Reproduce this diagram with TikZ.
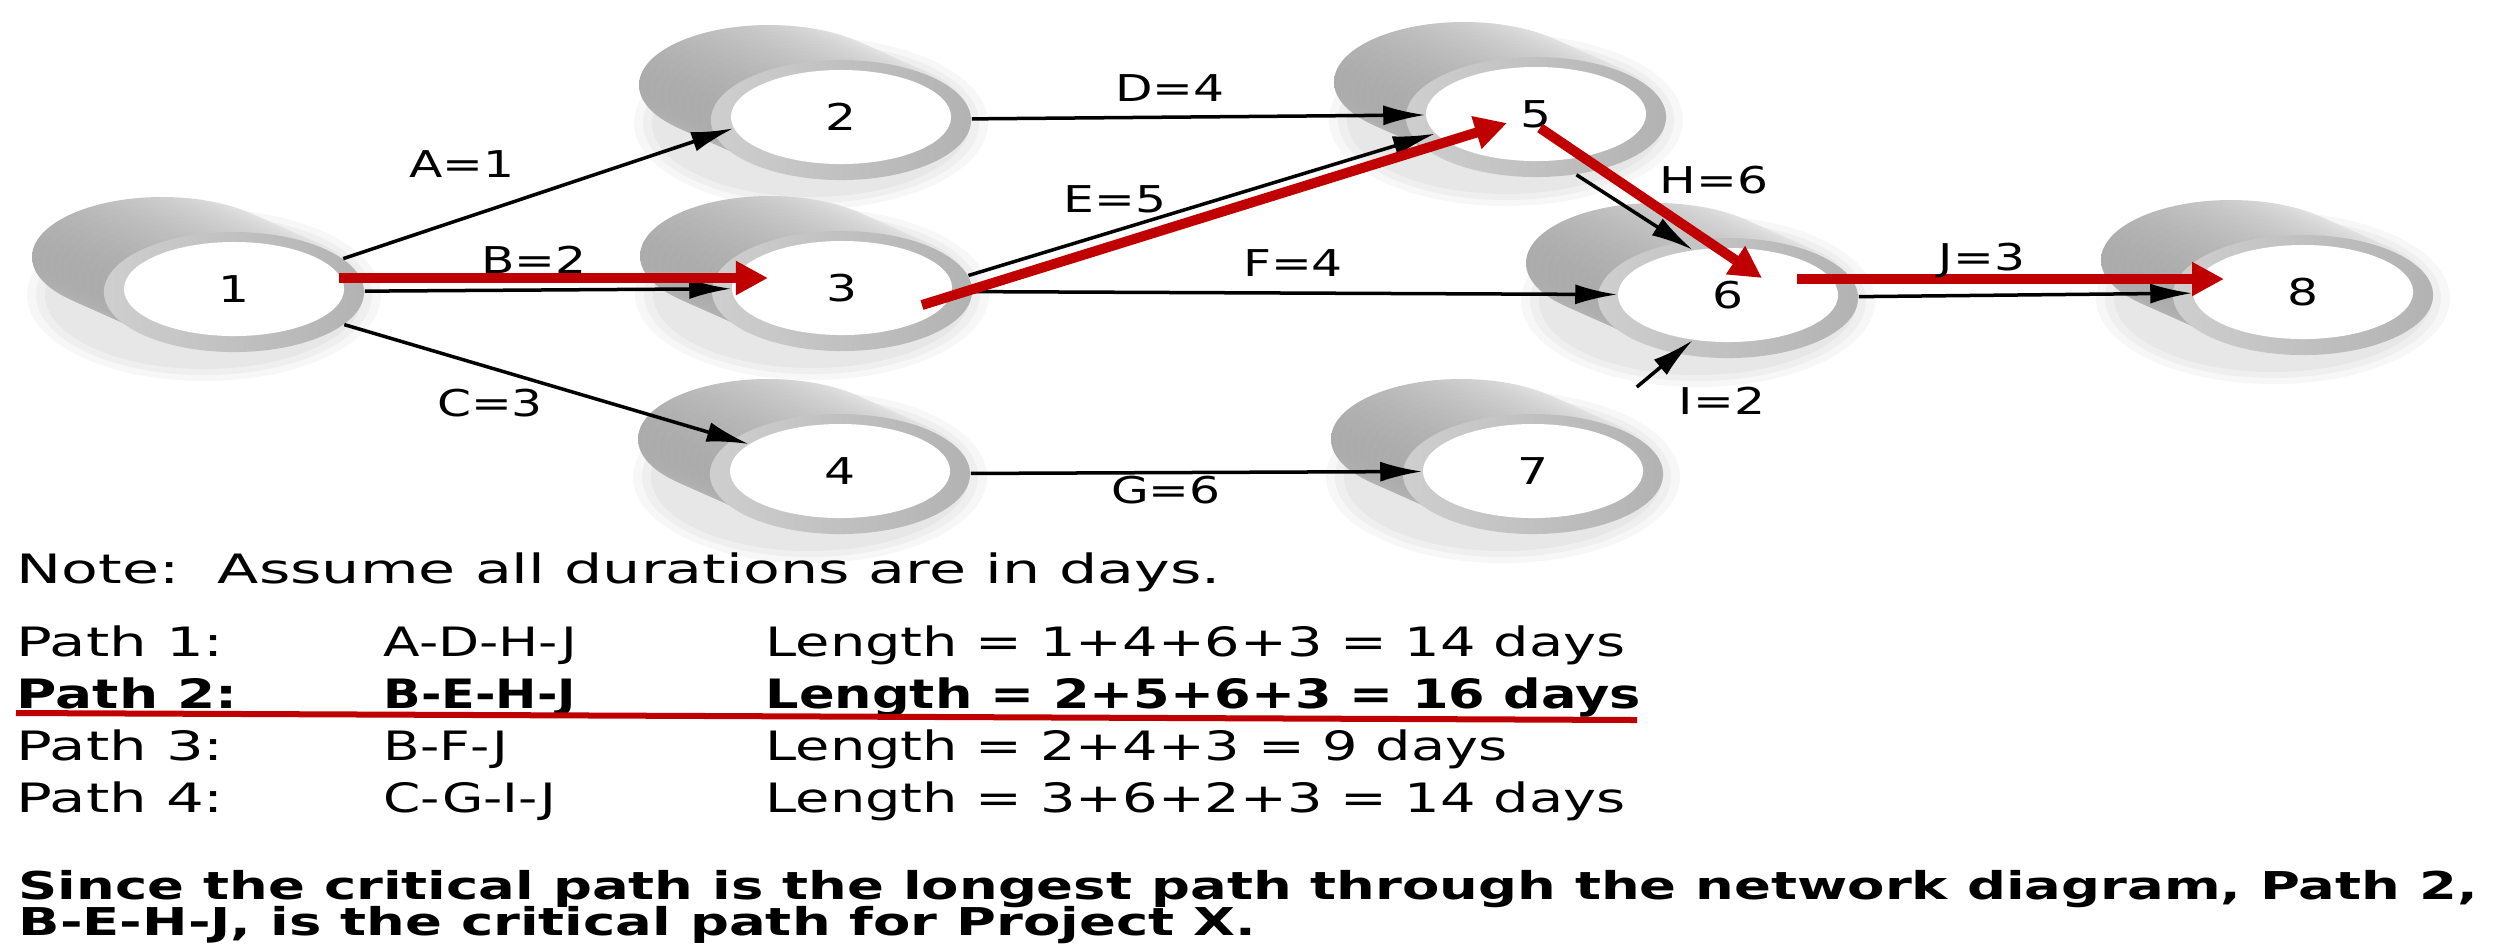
\documentclass[tikz,border=0pt]{standalone}
\usepackage{fontspec}
\setmainfont{DejaVu Sans}
\usetikzlibrary{arrows.meta,calc,shapes.geometric}

\definecolor{critred}{RGB}{192,0,0}
\newcommand{\lbltext}[1]{\scalebox{1.32}[1]{#1}}
\newcommand{\bodytext}[2][1.38]{\scalebox{#1}[1]{#2}}
\newcommand{\boldtext}[1]{\scalebox{1.42}[1]{#1}}

\tikzset{
  rim/.style={ellipse, minimum width=2.6cm, minimum height=1.2cm, inner sep=0pt,
    left color=black!19, right color=black!30},
  hole/.style={ellipse, fill=white, minimum width=2.2cm, minimum height=0.94cm,
    inner sep=0pt, font=\fontsize{10.5}{12}\selectfont},
  act/.style={-{Latex[length=0.42cm,width=0.2cm]}, line width=0.035cm},
  crit/.style={-{Triangle[length=0.32cm,width=0.32cm]}, line width=0.1cm, critred},
  lbl/.style={inner sep=0pt, font=\fontsize{10.5}{12}\selectfont},
  txt/.style={anchor=base west, inner sep=0pt, font=\fontsize{11.5}{14}\selectfont},
}

% event: name, position, number
\newcommand{\event}[3]{
  \foreach \s in {3,2,1}
    \fill[black, opacity=0.03] ($(#2)+(-30,6)$) ellipse ({150+9*\s} and {68+6*\s});
  \foreach \k in {0,...,10}
    \shade[left color=black!33, right color=black!6]
      ($(#2)+({-72+7.2*\k},{-32+3.2*\k})$) ellipse (130 and 60);
  \node[rim] (r#1) at ($(#2)+(0,3)$) {};
  \node[hole] (n#1) at (#2) {\lbltext{#3}};
}

\begin{document}
\begin{tikzpicture}[x=0.01cm, y=-0.01cm]
\useasboundingbox[fill=white] (0,0) rectangle (2497,947);

% events
\event{1}{234,289}{1}
\event{2}{841,117}{2}
\event{3}{842,288}{3}
\event{4}{840,471}{4}
\event{5}{1536,114}{5}
\event{6}{1728,295}{6}
\event{7}{1533,471}{7}
\event{8}{2303,292}{8}

% activities
\draw[act] (r1.17) -- (n2.186);
\draw[act] (r1) -- (n3);
\draw[act] (r1) -- (n4);
\draw[act] (r2) -- (n5);
\draw[act] (r3.7) -- (n5.191);
\draw[act] (r3) -- (n6);
\draw[act] (r4) -- (n7);
\draw[act] (r5.-55) -- (n6.128);
\draw[act, shorten <=15] (r7.40) -- (n6.232);
\draw[act] (r6) -- (n8);

% critical path
\draw[crit] ($(n1)+(105,-11)$) -- ($(n3)+(-74,-10)$);
\draw[crit] ($(n3)+(80,17)$) -- ($(n5)+(-29,9)$);
\draw[crit] ($(n5)+(4,14)$) -- ($(n6)+(34,-17)$);
\draw[crit] ($(n6)+(69,-16)$) -- ($(n8)+(-79,-13)$);

% durations
\foreach \nm/\pos/\t in {a/{462,164}/A=1, b/{534,260}/B=2, c/{490,403}/C=3,
    d/{1170,88}/D=4, e/{1115,199}/E=5, f/{1293,263}/F=4, g/{1166,490}/G=6,
    h/{1714,180}/H=6, i/{1722,401}/I=2, j/{1982,260}/J=3}
  \node[lbl] (l\nm) at (\pos) {\lbltext{\t}};

% table of paths
\node[txt] (note) at (16,583) {\bodytext[1.49]{Note:\ \ Assume all durations are in days.}};
\foreach \nm/\y/\p/\q/\l in {1/656/Path 1:/A-D-H-J/Length = 1+4+6+3 = 14 days,
    3/760/Path 3:/B-F-J/Length = 2+4+3 = 9 days,
    4/812/Path 4:/C-G-I-J/Length = 3+6+2+3 = 14 days}{
  \node[txt] (p\nm) at (16,\y) {\bodytext[1.47]{\p}};
  \node[txt] (s\nm) at (383,\y) {\bodytext[1.32]{\q}};
  \node[txt] (len\nm) at (765,\y) {\bodytext{\l}};
}
\node[txt, font=\fontsize{11.5}{14}\bfseries] (p2) at (16,708) {\bodytext[1.36]{Path 2:}};
\node[txt, font=\fontsize{11.5}{14}\bfseries] (s2) at (383,708) {\bodytext[1.22]{B-E-H-J}};
\node[txt, font=\fontsize{11.5}{14}\bfseries] (len2) at (765,708) {\bodytext[1.30]{Length = 2+5+6+3 = 16 days}};
\draw[critred, line width=0.06cm] (16,713) -- (1637,720);

\node[txt, font=\fontsize{10.9}{13}\bfseries] (since) at (18,899)
  {\boldtext{Since the critical path is the longest path through the network diagram, Path 2,}};
\node[txt, font=\fontsize{10.9}{13}\bfseries] (concl) at (18,935)
  {\boldtext{B-E-H-J, is the critical path for Project X.}};
\end{tikzpicture}
\end{document}
